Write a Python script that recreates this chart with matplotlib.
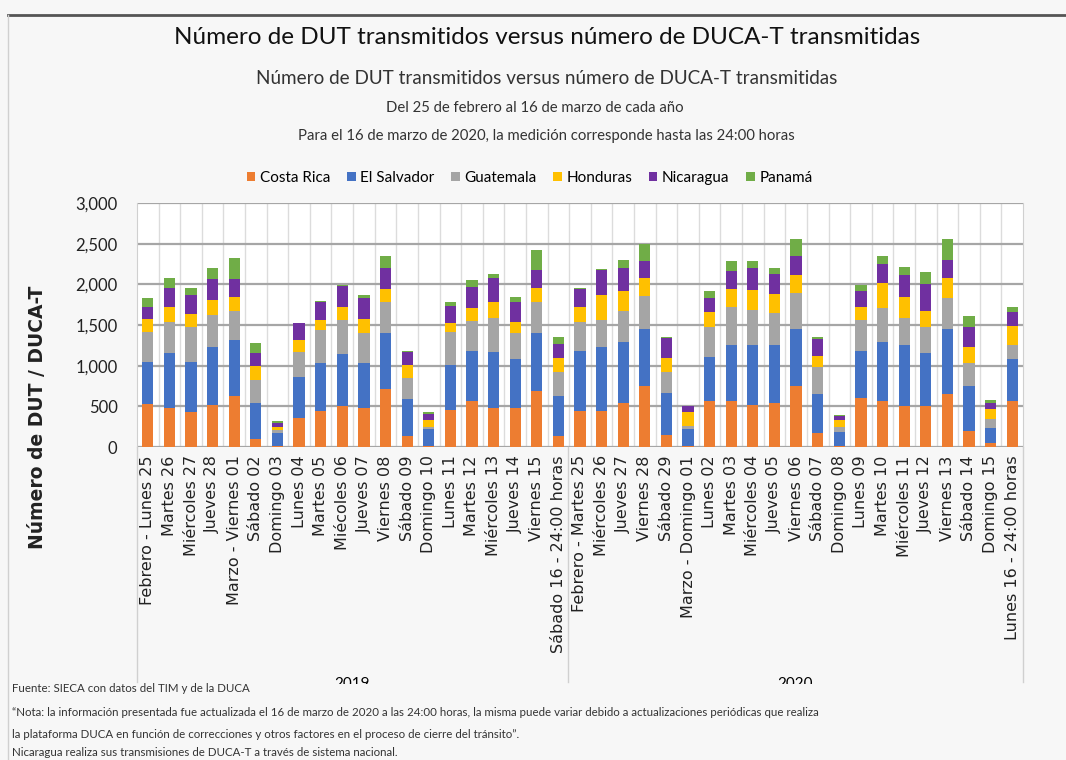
import matplotlib
matplotlib.use("Agg")
import matplotlib.pyplot as plt
import numpy as np
from matplotlib.lines import Line2D
from matplotlib.patches import Rectangle

# ----- Données ----- #
labels_2019 = ["Febrero - Lunes 25", "Martes 26", "Miércoles 27", "Jueves 28",
               "Marzo - Viernes 01", "Sábado 02", "Domingo 03", "Lunes 04",
               "Martes 05", "Miécoles 06", "Jueves 07", "Viernes 08", "Sábado 09",
               "Domingo 10", "Lunes 11", "Martes 12", "Miércoles 13", "Jueves 14",
               "Viernes 15", "Sábado 16 - 24:00 horas"]
labels_2020 = ["Febrero - Martes 25", "Miércoles 26", "Jueves 27", "Viernes 28",
               "Sábado 29", "Marzo - Domingo 01", "Lunes 02", "Martes 03",
               "Miércoles 04", "Jueves 05", "Viernes 06", "Sábado 07", "Domingo 08",
               "Lunes 09", "Martes 10", "Miércoles 11", "Jueves 12", "Viernes 13",
               "Sábado 14", "Domingo 15", "Lunes 16 - 24:00 horas"]
years = ["2019", "2020"]

countries = ["Costa Rica", "El Salvador", "Guatemala", "Honduras", "Nicaragua", "Panamá"]

costa_rica = [531, 478, 425, 519, 629, 98, 15, 356, 437, 510, 478, 711, 131, 16, 450, 560, 478, 478, 683, 139,
              437, 437, 539, 752, 151, 16, 560, 560, 519, 539, 752, 172, 16, 601, 560, 507, 507, 654, 192, 49, 560]
el_salvador = [519, 675, 625, 707, 687, 441, 155, 510, 601, 630, 560, 687, 458, 205, 559, 625, 687, 601, 715, 482,
               748, 789, 757, 695, 519, 205, 552, 695, 736, 716, 695, 482, 164, 580, 736, 748, 646, 793, 552, 184, 519]
guatemala = [368, 388, 421, 396, 360, 287, 35, 307, 401, 417, 360, 388, 257, 25, 409, 368, 417, 319, 388, 307,
             356, 335, 380, 408, 258, 32, 367, 470, 429, 388, 441, 335, 65, 380, 408, 327, 326, 380, 294, 110, 176]
honduras = [151, 175, 164, 184, 171, 171, 45, 143, 122, 164, 171, 155, 164, 90, 111, 151, 204, 143, 172, 163,
            184, 307, 241, 229, 163, 172, 184, 216, 245, 233, 225, 131, 90, 164, 315, 265, 197, 257, 188, 123, 233]
nicaragua = [156, 242, 233, 258, 217, 164, 45, 204, 225, 253, 258, 254, 163, 70, 204, 258, 286, 245, 216, 176,
             216, 306, 278, 201, 245, 74, 172, 221, 266, 257, 237, 208, 50, 192, 225, 266, 327, 213, 245, 80, 175]
panama = [110, 114, 90, 131, 261, 114, 25, 10, 15, 20, 41, 151, 10, 20, 53, 90, 61, 61, 254, 90,
          10, 15, 110, 216, 21, 5, 82, 123, 90, 62, 213, 29, 10, 73, 102, 102, 151, 266, 139, 34, 62]

series = [costa_rica, el_salvador, guatemala, honduras, nicaragua, panama]
colors = ["#ED7D31", "#4472C4", "#A5A5A5", "#FFC000", "#7030A0", "#70AD47"]

narrow = ["Lato", "DejaVu Sans"]
bg = "#f7f7f7"

# ----- Figure ----- #
fig = plt.figure(figsize=(10.66, 7.6), dpi=100, facecolor=bg)
ax = fig.add_axes([137 / 1066, 1 - 447 / 760, (1023 - 137) / 1066, (447 - 203) / 760])
ax.set_facecolor("white")

labels = labels_2019 + labels_2020
x = np.arange(len(labels))
bottom = np.zeros(len(labels))
for name, vals, c in zip(countries, series, colors):
    ax.bar(x, vals, width=0.52, bottom=bottom, color=c, label=name, zorder=3)
    bottom += np.array(vals)

ax.set_xlim(-0.5, len(labels) - 0.5)
ax.set_ylim(0, 3000)
ax.set_yticks(np.arange(0, 3001, 500))
ax.set_yticklabels([f"{v:,}" for v in range(0, 3001, 500)], family=narrow, fontsize=12,
                   color="#222222")
ax.set_xticks(x)
ax.set_xticklabels(labels, rotation=90, fontsize=11.5, family="DejaVu Sans", color="#222222")
ax.tick_params(axis="x", length=0, pad=6)
ax.tick_params(axis="y", length=0, pad=14)
ax.grid(axis="y", color="#a6a6a6", lw=1.6, zorder=1)
for k in range(len(labels) - 1):
    ax.axvline(k + 0.5, color="#dcdcdc", lw=1, zorder=1)
for s in ["top", "bottom"]:
    ax.spines[s].set_visible(False)
for s in ["left", "right"]:
    ax.spines[s].set_color("#d0d0d0")

ax.set_ylabel("Número de DUT / DUCA-T", fontsize=13.5, family="DejaVu Sans",
              fontweight="semibold", color="#222222")
ax.yaxis.set_label_coords(-0.102, 0.12)

# Séparateurs des groupes (années)
for xpix in [137, 568, 1023]:
    fig.add_artist(Line2D([xpix / 1066] * 2, [1 - 447 / 760, 1 - 682 / 760], color="#d0d0d0", lw=1))
fig.text(352 / 1066, 1 - 677 / 760, years[0], ha="center", va="top", fontsize=11, family=narrow)
fig.text(795 / 1066, 1 - 677 / 760, years[1], ha="center", va="top", fontsize=11, family=narrow)
fig.add_artist(Rectangle((0, 0), 1, 1 - 684 / 760, transform=fig.transFigure,
                         facecolor=bg, edgecolor="none", zorder=4))

# Cadre
fig.add_artist(Line2D([8 / 1066, 1], [1 - 15 / 760] * 2, color="#555555", lw=2, zorder=5))
fig.add_artist(Line2D([8 / 1066] * 2, [0, 1 - 15 / 760], color="#d0d0d0", lw=1, zorder=5))

# Titres
fig.text(0.513, 1 - 38 / 760, "Número de DUT transmitidos versus número de DUCA-T transmitidas",
         ha="center", va="center", fontsize=17.5, family=narrow, color="#111111")
fig.text(0.513, 1 - 78 / 760, "Número de DUT transmitidos versus número de DUCA-T transmitidas",
         ha="center", va="center", fontsize=13.6, family=narrow, color="#333333")
fig.text(0.502, 1 - 108 / 760, "Del 25 de febrero al 16 de marzo de cada año",
         ha="center", va="center", fontsize=10.7, family=narrow, color="#333333")
fig.text(0.513, 1 - 136 / 760, "Para el 16 de marzo de 2020, la medición corresponde hasta las 24:00 horas",
         ha="center", va="center", fontsize=10.7, family=narrow, color="#333333")

leg = fig.legend(loc="center", bbox_to_anchor=(0.497, 1 - 178 / 760), ncol=6, frameon=False,
                 prop={"family": narrow, "size": 11}, handlelength=0.55, handleheight=0.55,
                 handletextpad=0.3, columnspacing=1.1)

# Notes
notes = [
    "Fuente: SIECA con datos del TIM y de la DUCA",
    "“Nota: la información presentada fue actualizada el 16 de marzo de 2020 a las 24:00 horas, la misma puede variar debido a actualizaciones periódicas que realiza",
    "la plataforma DUCA en función de correcciones y otros factores en el proceso de cierre del tránsito”.",
    "Nicaragua realiza sus transmisiones de DUCA-T a través de sistema nacional.",
]
for txt, ypix in zip(notes, [689, 713, 735, 753]):
    fig.text(12 / 1066, 1 - ypix / 760, txt, ha="left", va="center", fontsize=8.3,
             family=narrow, color="#333333", zorder=6)

fig.savefig("out.png", dpi=100, facecolor=bg)
